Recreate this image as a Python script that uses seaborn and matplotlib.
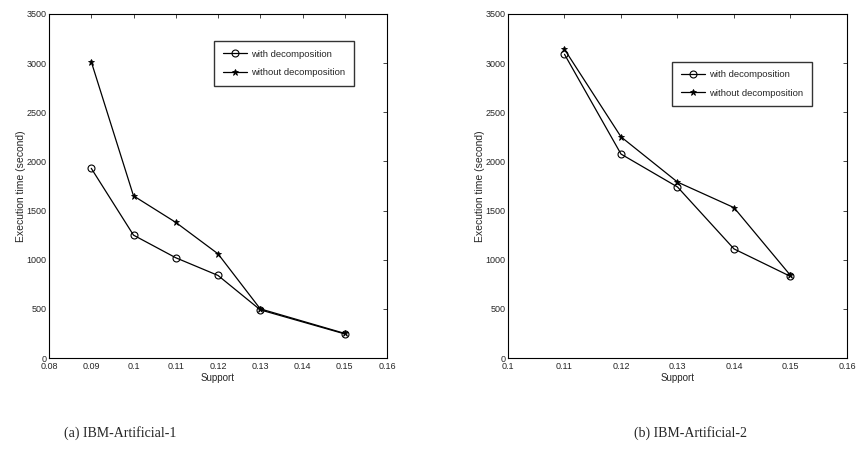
import numpy as np
import pandas as pd
import seaborn as sns
import matplotlib.pyplot as plt

# Data
support_1 = [0.09, 0.10, 0.11, 0.12, 0.13, 0.15]
with_1 = [1930, 1250, 1020, 840, 490, 245]
without_1 = [3015, 1650, 1380, 1060, 500, 250]

support_2 = [0.11, 0.12, 0.13, 0.14, 0.15]
with_2 = [3090, 2075, 1740, 1110, 830]
without_2 = [3140, 2250, 1790, 1530, 840]

xticks_1 = [0.08, 0.09, 0.1, 0.11, 0.12, 0.13, 0.14, 0.15, 0.16]
xticks_2 = [0.1, 0.11, 0.12, 0.13, 0.14, 0.15, 0.16]
yticks = [0, 500, 1000, 1500, 2000, 2500, 3000, 3500]
captions = ["(a) IBM-Artificial-1", "(b) IBM-Artificial-2"]

sns.set_style("white")
plt.rcParams['font.family'] = ['Liberation Sans', 'DejaVu Sans']

fig = plt.figure(figsize=(8.59, 4.55), dpi=100)
W, H = 859, 455
ax1 = fig.add_axes([49 / W, 1 - 358 / H, 338 / W, 344 / H])
ax2 = fig.add_axes([508 / W, 1 - 358 / H, 339 / W, 344 / H])


def panel(ax, x, y_with, y_without, xticks, xlim, legend_loc):
    df = pd.DataFrame({'Support': x, 'with': y_with, 'without': y_without})
    sns.lineplot(data=df, x='Support', y='with', ax=ax, color='black', lw=0.9,
                 marker='o', markersize=5, markerfacecolor='none',
                 markeredgecolor='black', markeredgewidth=0.8,
                 label='with decomposition')
    sns.lineplot(data=df, x='Support', y='without', ax=ax, color='black', lw=0.9,
                 marker='*', markersize=4.5, markeredgecolor='black',
                 markeredgewidth=0.6, label='without decomposition')
    ax.set_xlim(*xlim)
    ax.set_ylim(0, 3500)
    ax.set_xticks(xticks)
    ax.set_xticklabels([f"{t:g}" for t in xticks])
    ax.set_yticks(yticks)
    ax.tick_params(direction='in', top=True, right=True, labelsize=6.5,
                   length=3, width=0.6, pad=2)
    ax.tick_params(axis='x', pad=3)
    for s in ax.spines.values():
        s.set_linewidth(0.8)
        s.set_color('black')
    ax.set_xlabel('Support', fontsize=7, labelpad=1)
    ax.set_ylabel('Execution time (second)', fontsize=7.5, labelpad=0)
    leg = ax.legend(loc='upper left', bbox_to_anchor=legend_loc, fontsize=6.8,
                    frameon=True, fancybox=False, edgecolor='black',
                    handlelength=2.6, borderpad=0.9, labelspacing=1.0,
                    handletextpad=0.4)
    leg.get_frame().set_linewidth(1.0)


panel(ax1, support_1, with_1, without_1, xticks_1, (0.08, 0.16), (0.475, 0.935))
panel(ax2, support_2, with_2, without_2, xticks_2, (0.1, 0.16), (0.47, 0.875))

fig.text(120 / W, 1 - 433 / H, captions[0], ha='center', va='center',
         fontsize=10, family=['Liberation Serif', 'DejaVu Serif'])
fig.text(690 / W, 1 - 433 / H, captions[1], ha='center', va='center',
         fontsize=10, family=['Liberation Serif', 'DejaVu Serif'])

fig.savefig('out.png', dpi=100)
